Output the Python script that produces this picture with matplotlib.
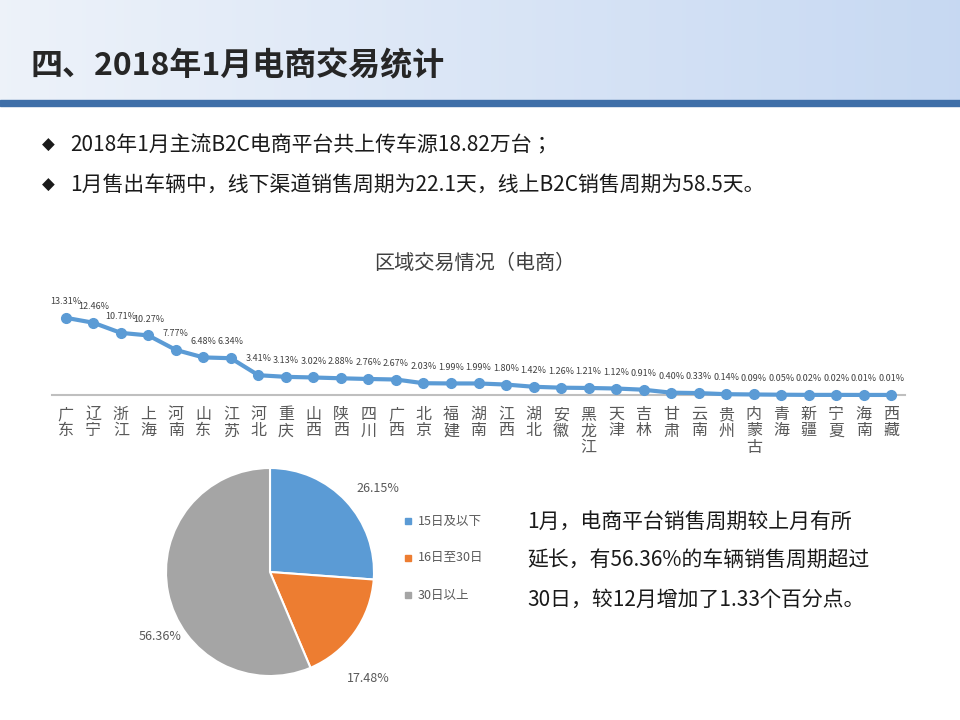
import matplotlib
matplotlib.use("Agg")
import matplotlib.pyplot as plt
from matplotlib import font_manager as fm
from matplotlib.patches import Rectangle
import numpy as np

cjk = [f for f in fm.fontManager.ttflist if "CJK" in f.name]
names = sorted(set(f.name for f in cjk))
fam = next((n for n in names if "SC" in n), names[0] if names else "DejaVu Sans")
plt.rcParams["font.family"] = [fam, "DejaVu Sans"]

provinces = ["广东","辽宁","浙江","上海","河南","山东","江苏","河北","重庆","山西","陕西","四川","广西","北京","福建","湖南","江西","湖北","安徽","黑龙江","天津","吉林","甘肃","云南","贵州","内蒙古","青海","新疆","宁夏","海南","西藏"]
shares = [13.31,12.46,10.71,10.27,7.77,6.48,6.34,3.41,3.13,3.02,2.88,2.76,2.67,2.03,1.99,1.99,1.80,1.42,1.26,1.21,1.12,0.91,0.40,0.33,0.14,0.09,0.05,0.02,0.02,0.01,0.01]
pie_labels = ["15日及以下","16日至30日","30日以上"]
pie_values = [26.15,17.48,56.36]
pie_colors = ["#5B9BD5","#ED7D31","#A5A5A5"]

W, H = 960, 720
fig = plt.figure(figsize=(9.6,7.2), dpi=100)
bg = fig.add_axes([0,0,1,1]); bg.set_xlim(0,W); bg.set_ylim(H,0); bg.axis("off")
grad = np.linspace(0,1,256).reshape(1,-1)
bg.imshow(np.dstack([0.93-0.15*grad, 0.95-0.1*grad, 0.98-0.03*grad]), extent=[0,W,100,0], aspect="auto")
bg.add_patch(Rectangle((0,100),W,6,color="#3F6FA8"))
bg.text(30,66,"四、2018年1月电商交易统计",fontsize=23,fontweight="bold",color="#262626",va="center")
bg.text(42,145,"◆",fontsize=12,color="#1a1a1a",va="center",family="DejaVu Sans")
bg.text(70,145,"2018年1月主流B2C电商平台共上传车源18.82万台；",fontsize=15,color="#1a1a1a",va="center")
bg.text(42,185,"◆",fontsize=12,color="#1a1a1a",va="center",family="DejaVu Sans")
bg.text(70,185,"1月售出车辆中，线下渠道销售周期为22.1天，线上B2C销售周期为58.5天。",fontsize=15,color="#1a1a1a",va="center")
bg.text(475,263,"区域交易情况（电商）",fontsize=14.5,color="#404040",ha="center",va="center")
bg.text(527,522,"1月，电商平台销售周期较上月有所",fontsize=15,color="#1a1a1a",va="center")
bg.text(527,560,"延长，有56.36%的车辆销售周期超过",fontsize=15,color="#1a1a1a",va="center")
bg.text(527,600,"30日，较12月增加了1.33个百分点。",fontsize=15,color="#1a1a1a",va="center")

ax = fig.add_axes([52/W, 1-395/H, 853/W, 105/H])
x = np.arange(len(provinces))
ax.plot(x, shares, color="#5B9BD5", lw=3, marker="o", ms=7, zorder=3, clip_on=False)
ax.set_xlim(-0.5, len(provinces)-0.5); ax.set_ylim(0, 18.1)
for s in ["top","right","left"]: ax.spines[s].set_visible(False)
ax.spines["bottom"].set_color("#BFBFBF"); ax.spines["bottom"].set_linewidth(1.5)
ax.set_yticks([])
ax.set_xticks(x)
ax.set_xticklabels(["\n".join(p) for p in provinces], fontsize=11.5, color="#595959", linespacing=0.95, va="top")
ax.tick_params(axis="x", length=0, pad=8)
for i, v in enumerate(shares):
    ax.annotate(f"{v:.2f}%", (i, v), xytext=(0, 10), textcoords="offset points", ha="center", fontsize=6.5, color="#404040")

pax = fig.add_axes([(270-104)/W, 1-(572+104)/H, 208/W, 208/H])
pax.pie(pie_values, colors=pie_colors, startangle=90, counterclock=False,
        wedgeprops=dict(edgecolor="white", linewidth=1.5))
pax.set_xlim(-1,1); pax.set_ylim(-1,1); pax.set_aspect("equal")
bg.text(378,488,"26.15%",fontsize=9,color="#595959",ha="center",va="center")
bg.text(368,678,"17.48%",fontsize=9,color="#595959",ha="center",va="center")
bg.text(160,636,"56.36%",fontsize=9,color="#595959",ha="center",va="center")
for i,(lab,c) in enumerate(zip(pie_labels,pie_colors)):
    yy = 521 + i*37
    bg.add_patch(Rectangle((405,yy-3),6,6,color=c))
    bg.text(418,yy,lab,fontsize=9,color="#595959",va="center")

fig.savefig("out.png", dpi=100)
